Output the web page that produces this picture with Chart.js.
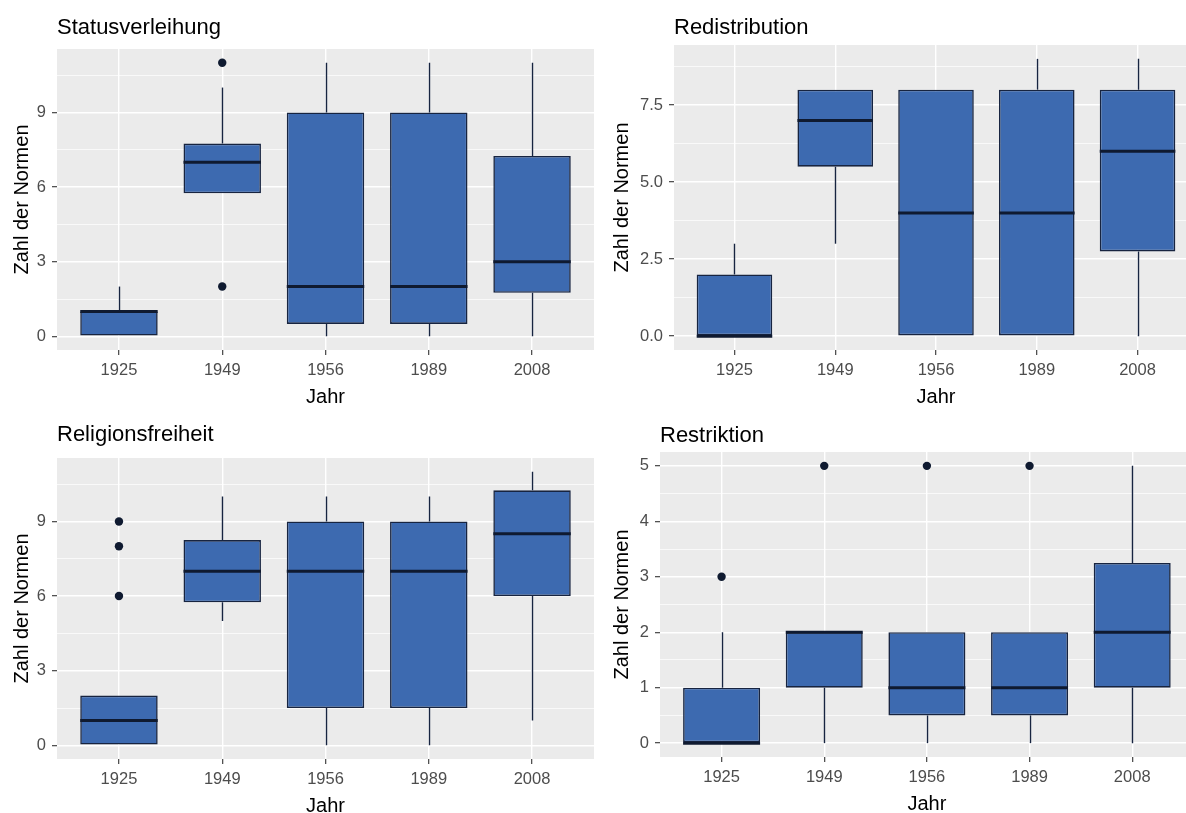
<!DOCTYPE html>
<html lang="de">
<head>
<meta charset="UTF-8">
<title>Zahl der Normen nach Jahr</title>
<script src="https://cdn.jsdelivr.net/npm/chart.js@4.4.1/dist/chart.umd.min.js"></script>
<style>
  html, body { margin: 0; padding: 0; background: #fff; overflow: hidden; width: 1186px; height: 813px; }
  canvas { position: absolute; }
</style>
</head>
<body>
<canvas id="c1" width="600" height="410" style="left:0px;top:0px;width:600px;height:410px"></canvas>
<canvas id="c2" width="598" height="410" style="left:600px;top:0px;width:598px;height:410px"></canvas>
<canvas id="c3" width="600" height="409" style="left:0px;top:410px;width:600px;height:409px"></canvas>
<canvas id="c4" width="598" height="407" style="left:600px;top:410px;width:598px;height:407px"></canvas>

<script>
// Jahre (x-Achse)
const years = ['1925', '1949', '1956', '1989', '2008'];

// Statusverleihung
const statusLo  = [0, 5.75, 0, 0, 0];
const statusQ1  = [0, 5.75, 0.5, 0.5, 1.75];
const statusMed = [1, 7, 2, 2, 3];
const statusQ3  = [1, 7.75, 9, 9, 7.25];
const statusHi  = [2, 10, 11, 11, 11];
const statusOut = [{x: '1949', y: 2}, {x: '1949', y: 11}];
const statusTicks = [0, 3, 6, 9];
const statusTickLabels = ['0', '3', '6', '9'];
const statusMinor = [1.5, 4.5, 7.5, 10.5];

// Redistribution
const redisLo  = [0, 3, 0, 0, 0];
const redisQ1  = [0, 5.5, 0, 0, 2.75];
const redisMed = [0, 7, 4, 4, 6];
const redisQ3  = [2, 8, 8, 8, 8];
const redisHi  = [3, 8, 8, 9, 9];
const redisOut = [];
const redisTicks = [0, 2.5, 5, 7.5];
const redisTickLabels = ['0.0', '2.5', '5.0', '7.5'];
const redisMinor = [1.25, 3.75, 6.25, 8.75];

// Religionsfreiheit
const religLo  = [0, 5, 0, 0, 1];
const religQ1  = [0, 5.75, 1.5, 1.5, 6];
const religMed = [1, 7, 7, 7, 8.5];
const religQ3  = [2, 8.25, 9, 9, 10.25];
const religHi  = [2, 10, 10, 10, 11];
const religOut = [{x: '1925', y: 6}, {x: '1925', y: 8}, {x: '1925', y: 9}];
const religTicks = [0, 3, 6, 9];
const religTickLabels = ['0', '3', '6', '9'];
const religMinor = [1.5, 4.5, 7.5, 10.5];

// Restriktion
const restrLo  = [0, 0, 0, 0, 0];
const restrQ1  = [0, 1, 0.5, 0.5, 1];
const restrMed = [0, 2, 1, 1, 2];
const restrQ3  = [1, 2, 2, 2, 3.25];
const restrHi  = [2, 2, 2, 2, 5];
const restrOut = [{x: '1925', y: 3}, {x: '1949', y: 5}, {x: '1956', y: 5}, {x: '1989', y: 5}];
const restrTicks = [0, 1, 2, 3, 4, 5];
const restrTickLabels = ['0', '1', '2', '3', '4', '5'];
const restrMinor = [0.5, 1.5, 2.5, 3.5, 4.5];

Chart.defaults.font.family = "'Liberation Sans', Arial, sans-serif";

const BOX_FILL = '#3D6AB0';
const BOX_LINE = '#172440';
const DARK = '#0F1A30';

// Hintergrund, Whisker, Median und Titel
const boxParts = {
  id: 'boxParts',
  beforeDraw(chart) {
    const {ctx, chartArea: a} = chart;
    ctx.save();
    ctx.fillStyle = '#EBEBEB';
    ctx.fillRect(a.left, a.top, a.width, a.height);
    ctx.restore();
  },
  beforeDatasetsDraw(chart) {
    const {ctx} = chart;
    const y = chart.scales.y;
    const ds = chart.data.datasets[0];
    const meta = chart.getDatasetMeta(0);
    ctx.save();
    ctx.strokeStyle = BOX_LINE;
    ctx.lineWidth = 1.4;
    meta.data.forEach((bar, i) => {
      const x = Math.round(bar.x) + 0.5;
      ctx.beginPath();
      ctx.moveTo(x, y.getPixelForValue(ds.lo[i]));
      ctx.lineTo(x, y.getPixelForValue(ds.q1[i]));
      ctx.moveTo(x, y.getPixelForValue(ds.q3[i]));
      ctx.lineTo(x, y.getPixelForValue(ds.hi[i]));
      ctx.stroke();
    });
    ctx.restore();
  },
  afterDatasetDraw(chart, args) {
    if (args.index !== 0) return;
    const {ctx} = chart;
    const y = chart.scales.y;
    const ds = chart.data.datasets[0];
    ctx.save();
    ctx.strokeStyle = DARK;
    ctx.lineWidth = 3;
    args.meta.data.forEach((bar, i) => {
      const py = y.getPixelForValue(ds.med[i]);
      ctx.beginPath();
      ctx.moveTo(bar.x - bar.width / 2, py);
      ctx.lineTo(bar.x + bar.width / 2, py);
      ctx.stroke();
    });
    ctx.restore();
  },
  afterDraw(chart) {
    const {ctx, chartArea: a} = chart;
    const ds = chart.data.datasets[0];
    ctx.save();
    ctx.fillStyle = '#000';
    ctx.font = "22px 'Liberation Sans', Arial, sans-serif";
    ctx.textAlign = 'left';
    ctx.textBaseline = 'alphabetic';
    ctx.fillText(ds.panelTitle, a.left, ds.titleY);
    ctx.restore();
  }
};

function makePanel(id, p) {
  const allTicks = p.ticks.concat(p.minor).sort((a, b) => a - b);
  const isMajor = v => p.ticks.indexOf(v) >= 0;
  const canvas = document.getElementById(id);
  return new Chart(canvas, {
    type: 'bar',
    data: {
      datasets: [{
        type: 'bar',
        data: years.map((yr, i) => ({ x: i, y: [p.q1[i], p.q3[i]] })),
        backgroundColor: BOX_FILL,
        borderColor: BOX_LINE,
        borderWidth: 1.6,
        borderSkipped: false,
        barPercentage: 0.75,
        categoryPercentage: 1.0,
        lo: p.lo, q1: p.q1, med: p.med, q3: p.q3, hi: p.hi,
        panelTitle: p.title, titleY: p.titleY,
        order: 2
      }, {
        type: 'scatter',
        data: p.out.map(o => ({ x: years.indexOf(o.x), y: o.y })),
        pointRadius: 4.2,
        pointBackgroundColor: DARK,
        pointBorderWidth: 0,
        order: 1
      }]
    },
    options: {
      responsive: false,
      animation: false,
      devicePixelRatio: 1,
      layout: { padding: { top: p.top, right: p.rightPad, left: 0, bottom: 0 } },
      plugins: { legend: { display: false }, tooltip: { enabled: false } },
      scales: {
        x: {
          type: 'linear',
          min: -0.6,
          max: years.length - 0.4,
          offset: false,
          afterBuildTicks: s => { s.ticks = years.map((yr, i) => ({ value: i })); },
          grid: { offset: false, color: '#FFFFFF', lineWidth: 1.4, tickColor: '#333333', tickLength: 5, tickWidth: 1.1 },
          border: { display: false },
          ticks: { color: '#4D4D4D', font: { size: 16.5 }, padding: 6, maxRotation: 0, autoSkip: false,
                   callback: v => years[v] },
          title: { display: true, text: 'Jahr', color: '#000', font: { size: 20 }, padding: { top: 0, bottom: 1 } },
          afterFit: s => { s.height = 60; }
        },
        y: {
          type: 'linear',
          min: p.min,
          max: p.max,
          afterBuildTicks: s => { s.ticks = allTicks.map(v => ({ value: v })); },
          grid: {
            offset: false,
            color: '#FFFFFF',
            lineWidth: c => isMajor(c.tick.value) ? 1.4 : 0.7,
            tickColor: c => isMajor(c.tick.value) ? '#333333' : 'rgba(0,0,0,0)',
            tickLength: 5,
            tickWidth: 1.1
          },
          border: { display: false },
          ticks: {
            color: '#4D4D4D', font: { size: 16.5 }, padding: 6, autoSkip: false,
            callback: v => { const k = p.ticks.indexOf(v); return k >= 0 ? p.labels[k] : ''; }
          },
          title: { display: true, text: 'Zahl der Normen', color: '#000', font: { size: 20 }, padding: { top: 10, bottom: 0 } },
          afterFit: s => { s.width = p.left; }
        }
      }
    },
    plugins: [boxParts]
  });
}

makePanel('c1', {
  title: 'Statusverleihung', titleY: 34, top: 49, left: 57, rightPad: 6,
  min: -0.55, max: 11.55,
  lo: statusLo, q1: statusQ1, med: statusMed, q3: statusQ3, hi: statusHi, out: statusOut,
  ticks: statusTicks, labels: statusTickLabels, minor: statusMinor
});
makePanel('c2', {
  title: 'Redistribution', titleY: 33.5, top: 45, left: 74, rightPad: 0,
  min: -0.45, max: 9.45,
  lo: redisLo, q1: redisQ1, med: redisMed, q3: redisQ3, hi: redisHi, out: redisOut,
  ticks: redisTicks, labels: redisTickLabels, minor: redisMinor
});
makePanel('c3', {
  title: 'Religionsfreiheit', titleY: 31, top: 48, left: 57, rightPad: 6,
  min: -0.55, max: 11.55,
  lo: religLo, q1: religQ1, med: religMed, q3: religQ3, hi: religHi, out: religOut,
  ticks: religTicks, labels: religTickLabels, minor: religMinor
});
makePanel('c4', {
  title: 'Restriktion', titleY: 31.5, top: 42, left: 60, rightPad: 0,
  min: -0.25, max: 5.25,
  lo: restrLo, q1: restrQ1, med: restrMed, q3: restrQ3, hi: restrHi, out: restrOut,
  ticks: restrTicks, labels: restrTickLabels, minor: restrMinor
});
</script>
</body>
</html>
